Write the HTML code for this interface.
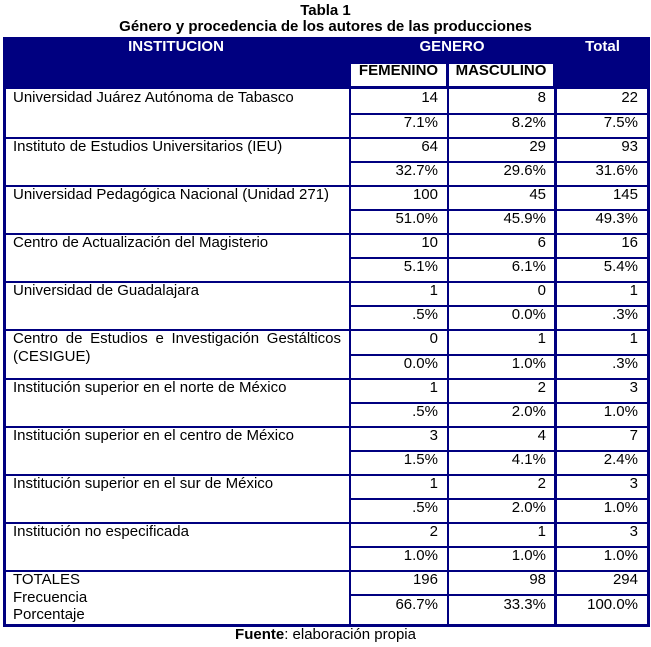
<!DOCTYPE html>
<html><head><meta charset="utf-8">
<style>
html,body{margin:0;padding:0;background:#fff;}
body{width:651px;height:647px;position:relative;overflow:hidden;font-family:"Liberation Sans",Arial,sans-serif;}
.nv{position:absolute;left:3px;top:37px;width:647px;height:590px;background:#000080;}
.w{position:absolute;background:#fff;}
.t{position:absolute;font-size:15px;line-height:17px;white-space:nowrap;color:#000;}
.b{font-weight:bold;}
.c{text-align:center;}
.r{text-align:right;}
.h{color:#fff;font-weight:bold;}
.f{left:351px;width:87px;text-align:right;}
.m{left:449px;width:97px;text-align:right;}
.o{left:557px;width:81px;text-align:right;}
.i{left:13px;}
</style></head><body>
<div class="t b c" style="left:0;width:651px;top:2px;">Tabla 1</div>
<div class="t b c" style="left:0;width:651px;top:18px;">Género y procedencia de los autores de las producciones</div>

<div class="nv"></div>
<!-- header -->
<div class="t h c" style="left:3px;width:346px;top:38px;">INSTITUCION</div>
<div class="t h c" style="left:349px;width:206px;top:38px;">GENERO</div>
<div class="t h c" style="left:555px;width:95px;top:38px;">Total</div>
<div class="w" style="left:351px;top:64px;width:95px;height:22px;"></div>
<div class="w" style="left:449px;top:64px;width:104px;height:22px;"></div>
<div class="t b c" style="left:351px;width:95px;top:62px;">FEMENINO</div>
<div class="t b c" style="left:449px;width:104px;top:62px;">MASCULINO</div>

<!-- institution column white blocks -->
<div class="w" style="left:6px;width:343px;top:89px;height:48px;"></div>
<div class="w" style="left:6px;width:343px;top:139px;height:46px;"></div>
<div class="w" style="left:6px;width:343px;top:187px;height:46px;"></div>
<div class="w" style="left:6px;width:343px;top:235px;height:46px;"></div>
<div class="w" style="left:6px;width:343px;top:283px;height:46px;"></div>
<div class="w" style="left:6px;width:343px;top:331px;height:47px;"></div>
<div class="w" style="left:6px;width:343px;top:380px;height:46px;"></div>
<div class="w" style="left:6px;width:343px;top:428px;height:46px;"></div>
<div class="w" style="left:6px;width:343px;top:476px;height:46px;"></div>
<div class="w" style="left:6px;width:343px;top:524px;height:46px;"></div>
<div class="w" style="left:6px;width:343px;top:572px;height:52px;"></div>

<!-- numeric cells: rows -->
<div class="w" style="left:351px;width:96px;top:89px;height:24px;"></div><div class="w" style="left:449px;width:105px;top:89px;height:24px;"></div><div class="w" style="left:557px;width:90px;top:89px;height:24px;"></div>
<div class="w" style="left:351px;width:96px;top:115px;height:22px;"></div><div class="w" style="left:449px;width:105px;top:115px;height:22px;"></div><div class="w" style="left:557px;width:90px;top:115px;height:22px;"></div>
<div class="w" style="left:351px;width:96px;top:139px;height:22px;"></div><div class="w" style="left:449px;width:105px;top:139px;height:22px;"></div><div class="w" style="left:557px;width:90px;top:139px;height:22px;"></div>
<div class="w" style="left:351px;width:96px;top:163px;height:22px;"></div><div class="w" style="left:449px;width:105px;top:163px;height:22px;"></div><div class="w" style="left:557px;width:90px;top:163px;height:22px;"></div>
<div class="w" style="left:351px;width:96px;top:187px;height:22px;"></div><div class="w" style="left:449px;width:105px;top:187px;height:22px;"></div><div class="w" style="left:557px;width:90px;top:187px;height:22px;"></div>
<div class="w" style="left:351px;width:96px;top:211px;height:22px;"></div><div class="w" style="left:449px;width:105px;top:211px;height:22px;"></div><div class="w" style="left:557px;width:90px;top:211px;height:22px;"></div>
<div class="w" style="left:351px;width:96px;top:235px;height:22px;"></div><div class="w" style="left:449px;width:105px;top:235px;height:22px;"></div><div class="w" style="left:557px;width:90px;top:235px;height:22px;"></div>
<div class="w" style="left:351px;width:96px;top:259px;height:22px;"></div><div class="w" style="left:449px;width:105px;top:259px;height:22px;"></div><div class="w" style="left:557px;width:90px;top:259px;height:22px;"></div>
<div class="w" style="left:351px;width:96px;top:283px;height:22px;"></div><div class="w" style="left:449px;width:105px;top:283px;height:22px;"></div><div class="w" style="left:557px;width:90px;top:283px;height:22px;"></div>
<div class="w" style="left:351px;width:96px;top:307px;height:22px;"></div><div class="w" style="left:449px;width:105px;top:307px;height:22px;"></div><div class="w" style="left:557px;width:90px;top:307px;height:22px;"></div>
<div class="w" style="left:351px;width:96px;top:331px;height:23px;"></div><div class="w" style="left:449px;width:105px;top:331px;height:23px;"></div><div class="w" style="left:557px;width:90px;top:331px;height:23px;"></div>
<div class="w" style="left:351px;width:96px;top:356px;height:22px;"></div><div class="w" style="left:449px;width:105px;top:356px;height:22px;"></div><div class="w" style="left:557px;width:90px;top:356px;height:22px;"></div>
<div class="w" style="left:351px;width:96px;top:380px;height:22px;"></div><div class="w" style="left:449px;width:105px;top:380px;height:22px;"></div><div class="w" style="left:557px;width:90px;top:380px;height:22px;"></div>
<div class="w" style="left:351px;width:96px;top:404px;height:22px;"></div><div class="w" style="left:449px;width:105px;top:404px;height:22px;"></div><div class="w" style="left:557px;width:90px;top:404px;height:22px;"></div>
<div class="w" style="left:351px;width:96px;top:428px;height:22px;"></div><div class="w" style="left:449px;width:105px;top:428px;height:22px;"></div><div class="w" style="left:557px;width:90px;top:428px;height:22px;"></div>
<div class="w" style="left:351px;width:96px;top:452px;height:22px;"></div><div class="w" style="left:449px;width:105px;top:452px;height:22px;"></div><div class="w" style="left:557px;width:90px;top:452px;height:22px;"></div>
<div class="w" style="left:351px;width:96px;top:476px;height:22px;"></div><div class="w" style="left:449px;width:105px;top:476px;height:22px;"></div><div class="w" style="left:557px;width:90px;top:476px;height:22px;"></div>
<div class="w" style="left:351px;width:96px;top:500px;height:22px;"></div><div class="w" style="left:449px;width:105px;top:500px;height:22px;"></div><div class="w" style="left:557px;width:90px;top:500px;height:22px;"></div>
<div class="w" style="left:351px;width:96px;top:524px;height:22px;"></div><div class="w" style="left:449px;width:105px;top:524px;height:22px;"></div><div class="w" style="left:557px;width:90px;top:524px;height:22px;"></div>
<div class="w" style="left:351px;width:96px;top:548px;height:22px;"></div><div class="w" style="left:449px;width:105px;top:548px;height:22px;"></div><div class="w" style="left:557px;width:90px;top:548px;height:22px;"></div>
<div class="w" style="left:351px;width:96px;top:572px;height:22px;"></div><div class="w" style="left:449px;width:105px;top:572px;height:22px;"></div><div class="w" style="left:557px;width:90px;top:572px;height:22px;"></div>
<div class="w" style="left:351px;width:96px;top:596px;height:28px;"></div><div class="w" style="left:449px;width:105px;top:596px;height:28px;"></div><div class="w" style="left:557px;width:90px;top:596px;height:28px;"></div>

<!-- institution texts -->
<div class="t i" style="top:89px;">Universidad Juárez Autónoma de Tabasco</div>
<div class="t i" style="top:138px;">Instituto de Estudios Universitarios (IEU)</div>
<div class="t i" style="top:186px;">Universidad Pedagógica Nacional (Unidad 271)</div>
<div class="t i" style="top:234px;">Centro de Actualización del Magisterio</div>
<div class="t i" style="top:282px;">Universidad de Guadalajara</div>
<div class="t i" style="top:330px;width:328px;white-space:normal;text-align:justify;text-align-last:justify;line-height:18px;">Centro de Estudios e Investigación Gestálticos</div>
<div class="t i" style="top:348px;line-height:18px;">(CESIGUE)</div>
<div class="t i" style="top:379px;">Institución superior en el norte de México</div>
<div class="t i" style="top:427px;">Institución superior en el centro de México</div>
<div class="t i" style="top:475px;">Institución superior en el sur de México</div>
<div class="t i" style="top:523px;">Institución no especificada</div>
<div class="t i" style="top:571px;line-height:17.5px;">TOTALES<br>Frecuencia<br>Porcentaje</div>

<!-- numbers -->
<div class="t f" style="top:89px;">14</div><div class="t m" style="top:89px;">8</div><div class="t o" style="top:89px;">22</div>
<div class="t f" style="top:114px;">7.1%</div><div class="t m" style="top:114px;">8.2%</div><div class="t o" style="top:114px;">7.5%</div>
<div class="t f" style="top:138px;">64</div><div class="t m" style="top:138px;">29</div><div class="t o" style="top:138px;">93</div>
<div class="t f" style="top:162px;">32.7%</div><div class="t m" style="top:162px;">29.6%</div><div class="t o" style="top:162px;">31.6%</div>
<div class="t f" style="top:186px;">100</div><div class="t m" style="top:186px;">45</div><div class="t o" style="top:186px;">145</div>
<div class="t f" style="top:210px;">51.0%</div><div class="t m" style="top:210px;">45.9%</div><div class="t o" style="top:210px;">49.3%</div>
<div class="t f" style="top:234px;">10</div><div class="t m" style="top:234px;">6</div><div class="t o" style="top:234px;">16</div>
<div class="t f" style="top:258px;">5.1%</div><div class="t m" style="top:258px;">6.1%</div><div class="t o" style="top:258px;">5.4%</div>
<div class="t f" style="top:282px;">1</div><div class="t m" style="top:282px;">0</div><div class="t o" style="top:282px;">1</div>
<div class="t f" style="top:306px;">.5%</div><div class="t m" style="top:306px;">0.0%</div><div class="t o" style="top:306px;">.3%</div>
<div class="t f" style="top:330px;">0</div><div class="t m" style="top:330px;">1</div><div class="t o" style="top:330px;">1</div>
<div class="t f" style="top:355px;">0.0%</div><div class="t m" style="top:355px;">1.0%</div><div class="t o" style="top:355px;">.3%</div>
<div class="t f" style="top:379px;">1</div><div class="t m" style="top:379px;">2</div><div class="t o" style="top:379px;">3</div>
<div class="t f" style="top:403px;">.5%</div><div class="t m" style="top:403px;">2.0%</div><div class="t o" style="top:403px;">1.0%</div>
<div class="t f" style="top:427px;">3</div><div class="t m" style="top:427px;">4</div><div class="t o" style="top:427px;">7</div>
<div class="t f" style="top:451px;">1.5%</div><div class="t m" style="top:451px;">4.1%</div><div class="t o" style="top:451px;">2.4%</div>
<div class="t f" style="top:475px;">1</div><div class="t m" style="top:475px;">2</div><div class="t o" style="top:475px;">3</div>
<div class="t f" style="top:499px;">.5%</div><div class="t m" style="top:499px;">2.0%</div><div class="t o" style="top:499px;">1.0%</div>
<div class="t f" style="top:523px;">2</div><div class="t m" style="top:523px;">1</div><div class="t o" style="top:523px;">3</div>
<div class="t f" style="top:547px;">1.0%</div><div class="t m" style="top:547px;">1.0%</div><div class="t o" style="top:547px;">1.0%</div>
<div class="t f" style="top:571px;">196</div><div class="t m" style="top:571px;">98</div><div class="t o" style="top:571px;">294</div>
<div class="t f" style="top:596px;">66.7%</div><div class="t m" style="top:596px;">33.3%</div><div class="t o" style="top:596px;">100.0%</div>

<div class="t c" style="left:0;width:651px;top:626px;"><b>Fuente</b>: elaboración propia</div>
</body></html>
